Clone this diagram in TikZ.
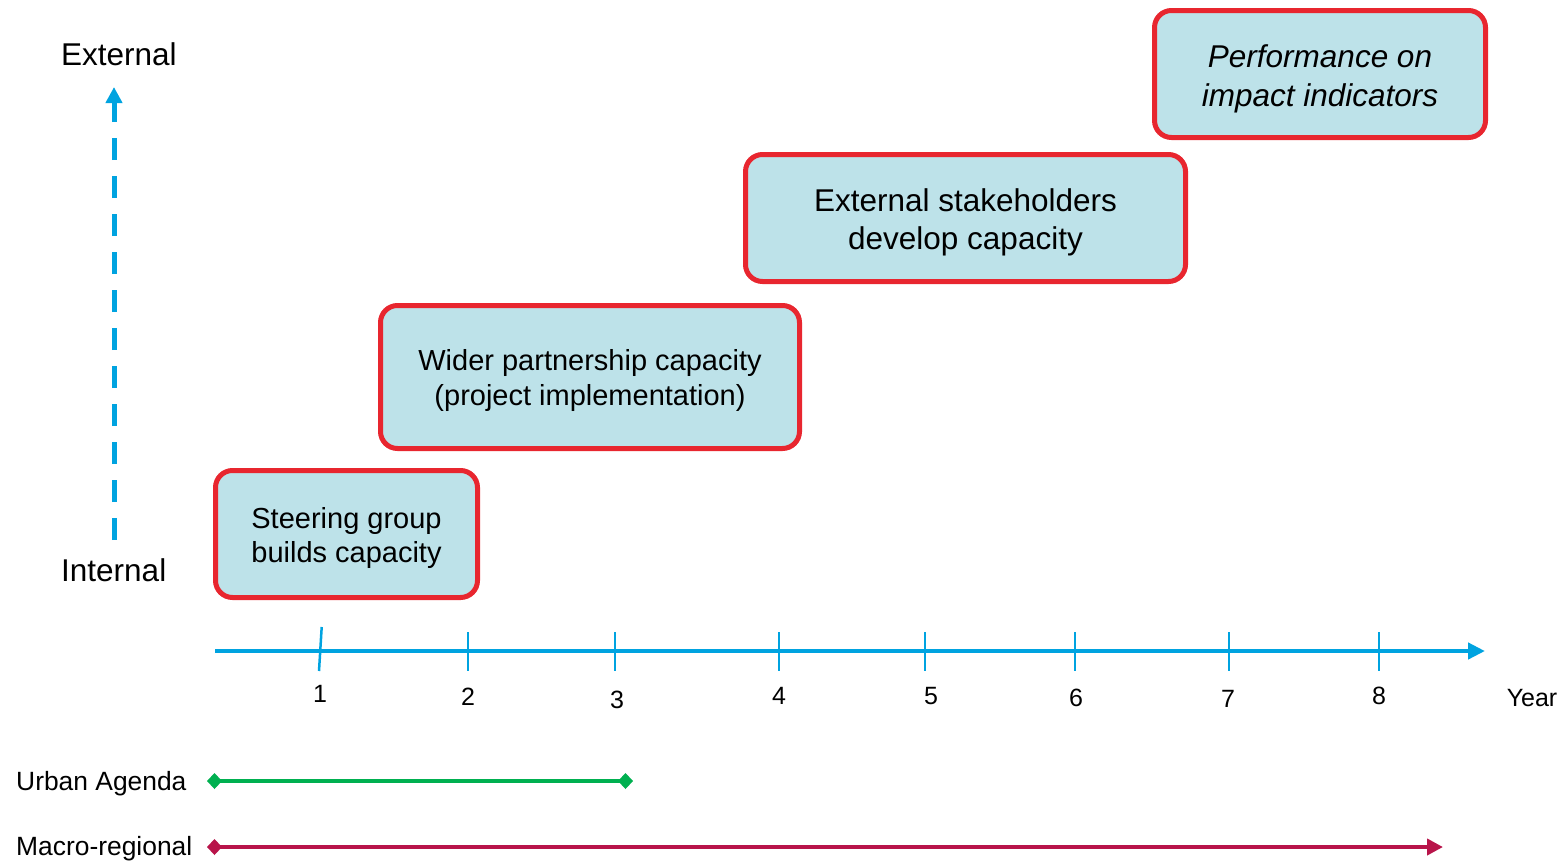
\documentclass[tikz,border=0pt]{standalone}
\usepackage{fontspec}
\setmainfont{Liberation Sans}
\usetikzlibrary{arrows.meta}
\definecolor{axisblue}{RGB}{0,163,224}
\definecolor{boxred}{RGB}{232,38,47}
\definecolor{boxfill}{RGB}{189,226,233}
\definecolor{agendagreen}{RGB}{0,176,80}
\definecolor{macrored}{RGB}{184,20,74}
\begin{document}
\begin{tikzpicture}[x=1pt,y=-1pt,
  stagebox/.style={draw=boxred, line width=5pt, fill=boxfill, rounded corners=17pt, inner sep=0pt},
  boxtext/.style={align=center, inner sep=0pt, text=black},
  boxfontA/.style={font=\fontsize{29}{34.5}\selectfont},
  boxfontB/.style={font=\fontsize{31.5}{38.5}\selectfont},
  boxfontI/.style={font=\fontsize{31.5}{38.5}\selectfont\itshape},
  axislabel/.style={font=\fontsize{31.5}{38}\selectfont, inner sep=0pt, anchor=base west},
  ticklabel/.style={font=\fontsize{25}{30}\selectfont, inner sep=0pt, anchor=base},
  sidelabel/.style={font=\fontsize{26.4}{31}\selectfont, inner sep=0pt, anchor=base west},
  axisline/.style={axisblue, line width=4.5pt, -{Triangle[length=17pt,width=16pt]}},
  tickline/.style={axisblue, line width=2pt},
  vline/.style={axisblue, line width=5pt, dash pattern=on 22pt off 16pt, -{Triangle[length=16pt,width=16pt]}},
  agendaline/.style={agendagreen, line width=4.5pt, {Diamond[length=15pt,width=16pt]}-{Diamond[length=15pt,width=16pt]}},
  macroline/.style={macrored, line width=4.5pt, {Diamond[length=15pt,width=16pt]}-{Triangle[length=16pt,width=16pt]}}
]
\useasboundingbox (0,0) rectangle (1565,860);

% stage boxes
\node[stagebox, minimum width=262pt, minimum height=127pt] (b1) at (346.5,534) {};
\node[stagebox, minimum width=419pt, minimum height=143pt] (b2) at (590,377) {};
\node[stagebox, minimum width=440pt, minimum height=127pt] (b3) at (965.5,218) {};
\node[stagebox, minimum width=331pt, minimum height=127pt] (b4) at (1320,74) {};
\node[boxtext, boxfontA] (b1t) at ([yshift=-4pt]b1.center) {Steering group\\builds capacity};
\node[boxtext, boxfontA] (b2t) at ([yshift=-3.5pt]b2.center) {Wider partnership capacity\\(project implementation)};
\node[boxtext, boxfontB] (b3t) at ([yshift=-4.5pt]b3.center) {External stakeholders\\develop capacity};
\node[boxtext, boxfontI] (b4t) at ([yshift=-5pt]b4.center) {Performance on\\impact indicators};

% vertical axis
\node[axislabel] (ext) at (61,65) {External};
\node[axislabel] (int) at (61,581) {Internal};
\coordinate (vbot) at (114,540);
\coordinate (vtop) at (114,87);
\draw[vline] (vbot) -- (vtop);

% horizontal axis
\coordinate (ax0) at (215,651);
\coordinate (ax1) at (1485,651);
\draw[axisline] (ax0) -- (ax1);
\draw[tickline, line width=2.5pt] (321.7,627) -- (319,671);
\foreach \x in {468,615,779,925,1075,1229,1379}{
  \draw[tickline] (\x,632) -- (\x,671);
}
\node[ticklabel] (t1) at (320,702) {1};
\node[ticklabel] (t2) at (468,705) {2};
\node[ticklabel] (t3) at (617,708) {3};
\node[ticklabel] (t4) at (779,704) {4};
\node[ticklabel] (t5) at (931,704) {5};
\node[ticklabel] (t6) at (1076,706) {6};
\node[ticklabel] (t7) at (1228,707) {7};
\node[ticklabel] (t8) at (1379,704) {8};
\node[ticklabel] (year) at (1532,706) {Year};

% programme spans
\node[sidelabel] (ua) at (16,790) {Urban Agenda};
\node[sidelabel] (mr) at (16,855) {Macro-regional};
\coordinate (ua0) at (207,781);
\coordinate (ua1) at (633,781);
\coordinate (mr0) at (207,847);
\coordinate (mr1) at (1443,847);
\draw[agendaline] (ua0) -- (ua1);
\draw[macroline] (mr0) -- (mr1);
\end{tikzpicture}
\end{document}
